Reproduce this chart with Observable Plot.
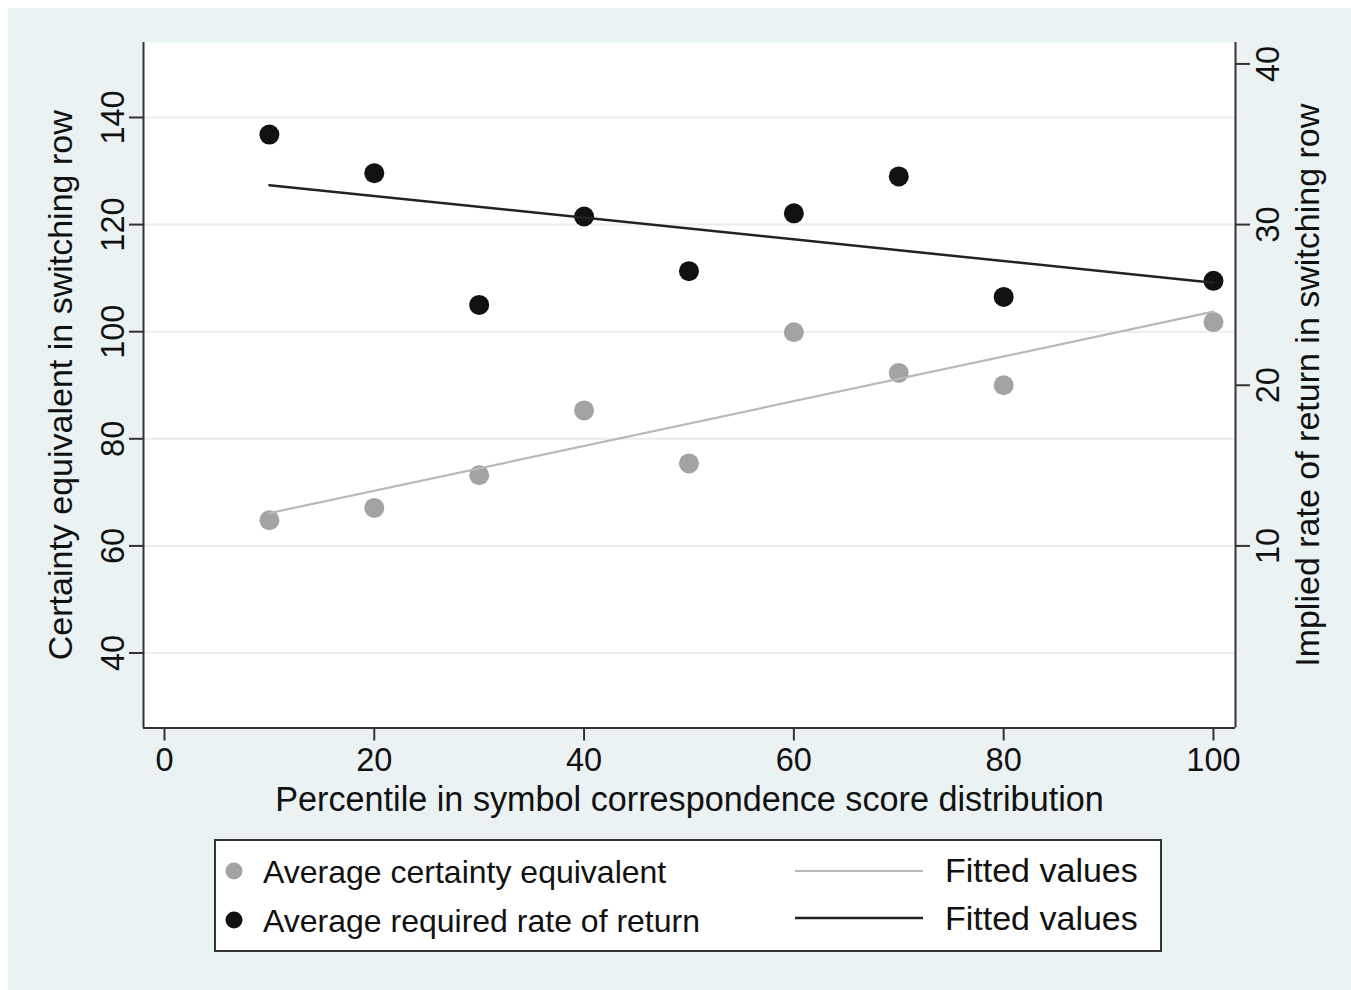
<!DOCTYPE html>
<html><head><meta charset="utf-8">
<script src="https://cdn.jsdelivr.net/npm/d3@7"></script>
<script src="https://cdn.jsdelivr.net/npm/@observablehq/plot@0.6"></script>
<style>
html,body{margin:0;padding:0;background:#fff;overflow:hidden;}
#bg{position:absolute;left:8px;top:8px;width:1343px;height:982px;background:#eaf2f3;}
#chart{position:absolute;left:0;top:0;}
#legend{position:absolute;left:214px;top:839px;}
</style></head><body>
<div id="bg"></div><div id="chart"></div><div id="legend"></div>
<script>
// ---- data ----
const percentiles = [10, 20, 30, 40, 50, 60, 70, 80, 100];
const certaintyEquivalent = [64.8, 67.1, 73.2, 85.3, 75.4, 99.9, 92.3, 90.0, 101.8];
const requiredRate = [35.6, 33.2, 25.0, 30.5, 27.1, 30.7, 33.0, 25.5, 26.5];
const xTicks = [0, 20, 40, 60, 80, 100];
const leftTicks = [40, 60, 80, 100, 120, 140];
const rightTicks = [10, 20, 30, 40];
const xDomain = [-2, 102.1];
const yDomain = [26, 154];
// right axis alignment: rate r sits at certainty-equivalent level 30 + 3r
const rateOffset = 30, rateFactor = 3;
const xTitle = "Percentile in symbol correspondence score distribution";
const leftTitle = "Certainty equivalent in switching row";
const rightTitle = "Implied rate of return in switching row";
const legendLabels = ["Average certainty equivalent", "Average required rate of return", "Fitted values", "Fitted values"];

// ---- styles ----
const grayDot = "#a3a3a3", blackDot = "#111111";
const grayLine = "#b8b8b8", blackLine = "#222222";
const axisColor = "#333333";
const font = "'Liberation Sans', Arial, Helvetica, sans-serif";

const toCE = r => rateOffset + rateFactor * r;
const ceData = percentiles.map((p, i) => ({p, v: certaintyEquivalent[i]}));
const rateData = percentiles.map((p, i) => ({p, v: toCE(requiredRate[i])}));

const chart = Plot.plot({
  width: 1351, height: 840,
  marginLeft: 143, marginRight: 116, marginTop: 42, marginBottom: 112.5,
  x: {domain: xDomain},
  y: {domain: yDomain},
  style: {background: "transparent", fontFamily: font, color: "#111", overflow: "visible"},
  marks: [
    Plot.frame({fill: "white", stroke: "none"}),
    Plot.gridY(leftTicks, {stroke: "#e8eeee", strokeOpacity: 1, strokeWidth: 2}),
    Plot.ruleX([xDomain[0], xDomain[1]], {stroke: axisColor, strokeWidth: 2}),
    Plot.ruleY([yDomain[0]], {stroke: axisColor, strokeWidth: 2}),
    Plot.axisX(xTicks, {anchor: "bottom", tickSize: 13, tickPadding: 7, fontSize: 32.5, stroke: axisColor, strokeWidth: 2, label: null}),
    Plot.axisY(leftTicks, {anchor: "left", tickSize: 14, tickPadding: 6, tickRotate: -90, lineAnchor: "bottom", textAnchor: "middle", fontSize: 32.5, stroke: axisColor, strokeWidth: 2, label: null}),
    Plot.axisY(rightTicks.map(toCE), {anchor: "right", tickSize: 14, tickPadding: 6, tickRotate: -90, lineAnchor: "top", textAnchor: "middle", tickFormat: d => String((d - rateOffset) / rateFactor), fontSize: 32.5, stroke: axisColor, strokeWidth: 2, label: null}),
    Plot.dot(ceData, {x: "p", y: "v", r: 10, fill: grayDot}),
    Plot.dot(rateData, {x: "p", y: "v", r: 10, fill: blackDot}),
    Plot.linearRegressionY(ceData, {x: "p", y: "v", stroke: grayLine, strokeWidth: 2.2, ci: 0}),
    Plot.linearRegressionY(rateData, {x: "p", y: "v", stroke: blackLine, strokeWidth: 2.5, ci: 0}),
    Plot.text([xTitle], {frameAnchor: "bottom", dy: 82.5, lineAnchor: "bottom", textAnchor: "middle", fontSize: 34.2}),
    Plot.text([leftTitle], {frameAnchor: "left", dx: -96, rotate: -90, lineAnchor: "top", textAnchor: "middle", fontSize: 34}),
    Plot.text([rightTitle], {frameAnchor: "right", dx: 59, rotate: -90, lineAnchor: "top", textAnchor: "middle", fontSize: 34})
  ]
});
document.getElementById("chart").appendChild(chart);

// ---- legend ----
const lw = 948, lh = 113;
const svg = d3.select("#legend").append("svg")
  .attr("width", lw).attr("height", lh)
  .style("font-family", font).style("display", "block");
svg.append("rect").attr("x", 1).attr("y", 1).attr("width", lw - 2).attr("height", lh - 2)
  .attr("fill", "white").attr("stroke", axisColor).attr("stroke-width", 2);
const rowsY = [32, 81];
const baseY = [44, 93];
svg.append("circle").attr("cx", 20).attr("cy", rowsY[0]).attr("r", 8.5).attr("fill", grayDot);
svg.append("circle").attr("cx", 20).attr("cy", rowsY[1]).attr("r", 8.5).attr("fill", blackDot);
svg.append("text").attr("x", 49).attr("y", baseY[0]).attr("font-size", 32).attr("fill", "#111").text(legendLabels[0]);
svg.append("text").attr("x", 49).attr("y", baseY[1]).attr("font-size", 32).attr("fill", "#111").text(legendLabels[1]);
svg.append("line").attr("x1", 581).attr("x2", 709).attr("y1", rowsY[0]).attr("y2", rowsY[0]).attr("stroke", grayLine).attr("stroke-width", 2.2);
svg.append("line").attr("x1", 581).attr("x2", 709).attr("y1", rowsY[1] - 2).attr("y2", rowsY[1] - 2).attr("stroke", blackLine).attr("stroke-width", 2.5);
svg.append("text").attr("x", 731).attr("y", baseY[0] - 1).attr("font-size", 34).attr("fill", "#111").text(legendLabels[2]);
svg.append("text").attr("x", 731).attr("y", baseY[1] - 2).attr("font-size", 34).attr("fill", "#111").text(legendLabels[3]);
</script>
</body></html>
